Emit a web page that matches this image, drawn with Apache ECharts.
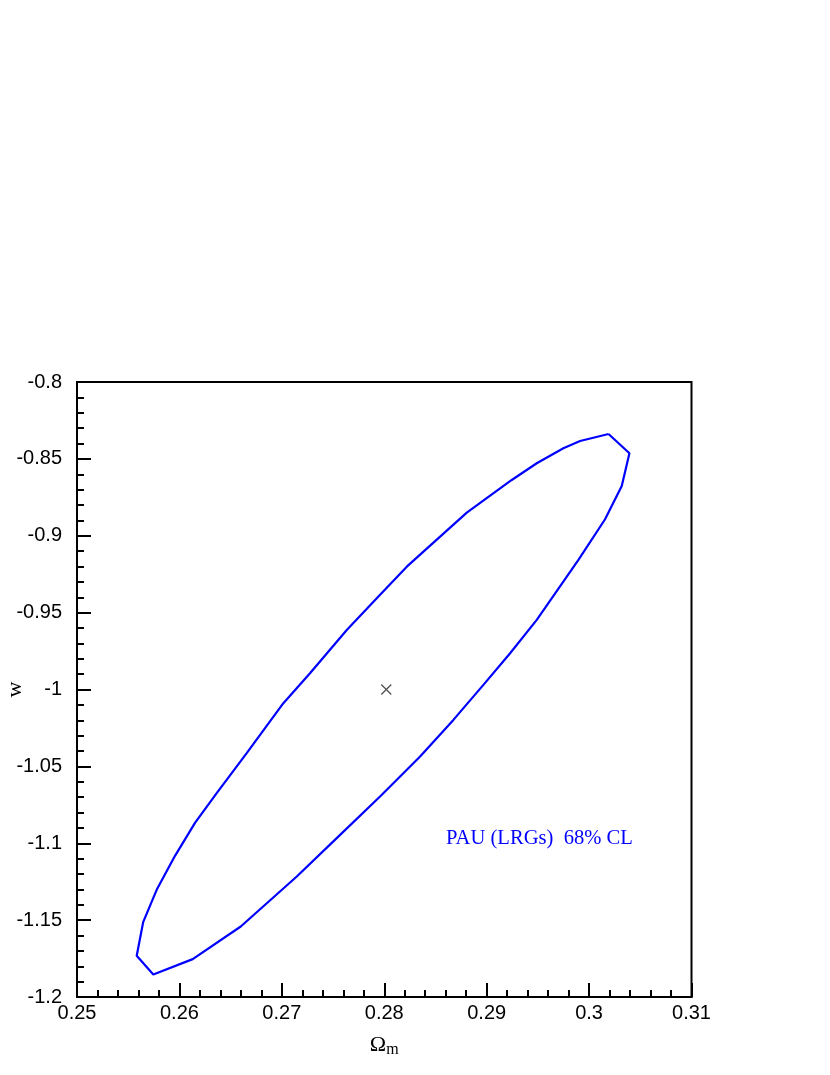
<!DOCTYPE html>
<html>
<head>
<meta charset="utf-8">
<script src="https://cdn.jsdelivr.net/npm/echarts@6/dist/echarts.min.js"></script>
<style>html,body{margin:0;padding:0;background:#fff;}#c{width:830px;height:1075px;}</style>
</head>
<body>
<div id="c"></div>
<script>
// Contour (68% CL) traced clockwise from the top vertex
const contourOmegaM = [0.3019,0.30394,0.30319,0.30156,0.29896,0.29489,0.29229,0.28968,0.28675,0.2835,0.27959,0.27536,0.27146,0.26599,0.2613,0.25745,0.25583,0.25647,0.25778,0.25957,0.26152,0.26364,0.26657,0.27015,0.27275,0.27634,0.27927,0.2822,0.28806,0.29245,0.29489,0.29749,0.29912,0.3019];
const contourW = [-0.8338,-0.84636,-0.86762,-0.88927,-0.91573,-0.95475,-0.9764,-0.99701,-1.01977,-1.04363,-1.06964,-1.09669,-1.12165,-1.15416,-1.17536,-1.18537,-1.17321,-1.15111,-1.1303,-1.10819,-1.08674,-1.06743,-1.04142,-1.00891,-0.9894,-0.96125,-0.94064,-0.92009,-0.88498,-0.86372,-0.85286,-0.84311,-0.83836,-0.8338];
const fiducialOmegaM = [0.2802];
const fiducialW = [-1.0];
const legendText = 'PAU (LRGs)  68% CL';

const chart = echarts.init(document.getElementById('c'));
const axisLabelStyle = {fontFamily: 'Liberation Sans', fontSize: 20, color: '#000'};
chart.setOption({
  animation: false,
  backgroundColor: '#fff',
  grid: {left: 77, top: 382, right: 138.5, bottom: 78, containLabel: false, outerBoundsMode: 'none',
         show: true, borderColor: '#000', borderWidth: 2, backgroundColor: 'transparent'},
  xAxis: {
    type: 'value', min: 0.25, max: 0.31, interval: 0.01,
    axisLine: {show: true, lineStyle: {color: '#000', width: 2}},
    axisTick: {show: true, inside: true, length: 14, lineStyle: {color: '#000', width: 2}},
    minorTick: {show: true, splitNumber: 5, length: 7, lineStyle: {color: '#000', width: 2}},
    splitLine: {show: false},
    axisLabel: Object.assign({margin: 6}, axisLabelStyle),
    name: '{o|Ω}{s|m}', nameLocation: 'middle', nameGap: 35, nameMoveOverlap: false,
    nameTextStyle: {rich: {o: {fontFamily: 'Liberation Serif', fontSize: 22, color: '#000'}, s: {fontFamily: 'Liberation Serif', fontSize: 16, color: '#000', verticalAlign: 'bottom', padding: [10, 0, 0, 0]}}}
  },
  yAxis: {
    type: 'value', min: -1.2, max: -0.8, interval: 0.05,
    axisLine: {show: true, lineStyle: {color: '#000', width: 2}},
    axisTick: {show: true, inside: true, length: 14, lineStyle: {color: '#000', width: 2}},
    minorTick: {show: true, splitNumber: 5, length: 7, lineStyle: {color: '#000', width: 2}},
    splitLine: {show: false},
    axisLabel: Object.assign({margin: 15}, axisLabelStyle),
    name: 'w', nameLocation: 'middle', nameGap: 51, nameRotate: 90, nameMoveOverlap: false,
    nameTextStyle: {fontFamily: 'Liberation Serif', fontSize: 22, color: '#000'}
  },
  series: [
    {
      type: 'line', data: contourOmegaM.map((x, i) => [x, contourW[i]]),
      showSymbol: false, symbol: 'none', smooth: false,
      lineStyle: {color: '#0000ff', width: 2.2}, silent: true
    },
    {
      type: 'scatter', data: fiducialOmegaM.map((x, i) => [x, fiducialW[i]]),
      symbol: 'path://M0,0L10,10M10,0L0,10', symbolSize: 10,
      itemStyle: {color: 'none', borderColor: '#222', borderWidth: 1.2}, silent: true
    }
  ],
  graphic: [{
    type: 'text', left: 446, top: 828,
    style: {text: legendText, fill: '#0000ff', font: '20.6px "Liberation Serif"'}
  }]
});
</script>
</body>
</html>
